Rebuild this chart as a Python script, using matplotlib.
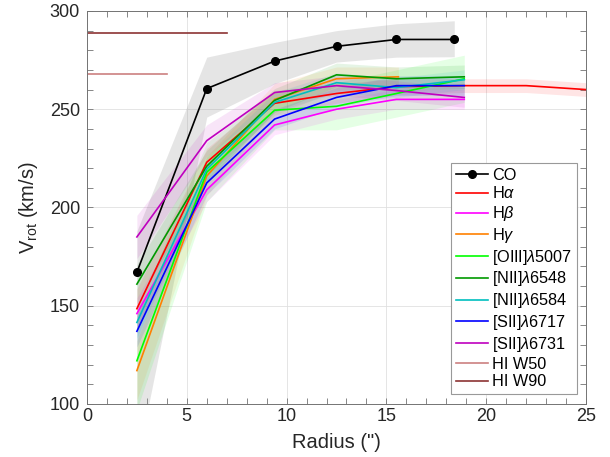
import matplotlib
matplotlib.use('Agg')
import matplotlib.pyplot as plt
import numpy as np

plt.rcParams['font.family'] = ['Liberation Sans', 'DejaVu Sans']
plt.rcParams['mathtext.fontset'] = 'custom'
plt.rcParams['mathtext.rm'] = 'Liberation Sans'
plt.rcParams['mathtext.it'] = 'Liberation Sans:italic'

# ------- data ------------------------------------------------------
r_co = [2.5, 6.0, 9.4, 12.5, 15.5, 18.4]
v_co = [167, 260.5, 274.5, 282, 285.5, 285.5]
co_lo = [70, 246, 263, 274, 276.5, 276.7]
co_hi = [188, 276.5, 284, 290, 293.5, 295]

r_gas = [2.5, 6.0, 9.4, 12.5, 15.5, 18.9]
r_ha = [2.5, 6.0, 9.4, 12.5, 15.5, 18.9, 22.0, 25.0]
r_hg = [2.5, 6.0, 9.4, 12.5, 15.6]

v_ha = [148.5, 223, 253, 258, 261.5, 262, 262, 260]
e_ha = [10, 7, 6, 5, 4, 3.5, 3.5, 3.5]
v_hb = [146, 209, 242, 250, 255, 255]
e_hb = [8, 6, 5, 5, 5, 5]
v_hg = [117, 216, 255, 265.5, 266.5]
e_hg = [15, 10, 8, 6, 5]
v_oiii = [122, 218, 249.5, 251.5, 258, 265.5]
e_oiii = [25, 15, 10, 12, 12, 12]
v_nii48 = [161, 221, 254.5, 267.5, 265.5, 266.5]
e_nii48 = [10, 8, 6, 6, 6, 6]
v_nii84 = [141.5, 219.5, 253.5, 263.5, 261, 265]
e_nii84 = [8, 6, 5, 5, 5, 5]
v_sii17 = [137, 212.5, 245, 256, 262, 262]
e_sii17 = [8, 6, 5, 5, 5, 5]
v_sii31 = [185, 234, 258.5, 262, 259.5, 256]
e_sii31 = [11, 8, 5, 5, 5, 5]

hi_w50 = 267.7
hi_w50_x = [0, 4]
hi_w90 = 289.0
hi_w90_x = [0, 7]

# ------- plot ------------------------------------------------------
fig = plt.figure(figsize=(6.1, 4.57), dpi=100)
ax = fig.add_axes([0.1426, 0.116, 0.8181, 0.860])

ax.fill_between(r_co, co_lo, co_hi, color='0.6', alpha=0.25, lw=0)
ax.plot(r_co, v_co, 'k-o', lw=1.2, ms=5.5, label='CO')

gas = [
    (r_ha, v_ha, e_ha, (1, 0, 0), r'H$\alpha$'),
    (r_gas, v_hb, e_hb, (1, 0, 1), r'H$\beta$'),
    (r_hg, v_hg, e_hg, (1, 0.5, 0), r'H$\gamma$'),
    (r_gas, v_oiii, e_oiii, (0, 1, 0), r'[OIII]$\lambda$5007'),
    (r_gas, v_nii48, e_nii48, (0, 0.6, 0), r'[NII]$\lambda$6548'),
    (r_gas, v_nii84, e_nii84, (0, 0.75, 0.75), r'[NII]$\lambda$6584'),
    (r_gas, v_sii17, e_sii17, (0, 0, 1), r'[SII]$\lambda$6717'),
    (r_gas, v_sii31, e_sii31, (0.75, 0, 0.75), r'[SII]$\lambda$6731'),
]
for r, v, e, c, lab in gas:
    v = np.array(v)
    e = np.array(e)
    ax.fill_between(r, v - e, v + e, color=c, alpha=0.1, lw=0)
for r, v, e, c, lab in gas:
    ax.plot(r, v, color=c, lw=1.2, label=lab)

ax.plot(hi_w50_x, [hi_w50] * 2, color=(0.8, 0.5, 0.5), lw=1.2, label='HI W50')
ax.plot(hi_w90_x, [hi_w90] * 2, color=(0.55, 0.2, 0.2), lw=1.2, label='HI W90')

ax.set_xlim(0, 25)
ax.set_ylim(100, 300)
ax.set_xticks(np.arange(0, 26, 5))
ax.set_yticks(np.arange(100, 301, 50))
ax.set_xticks(np.arange(0, 26, 1), minor=True)
ax.set_yticks(np.arange(100, 301, 10), minor=True)
ax.tick_params(which='both', direction='in', top=True, right=True,
               color='0.45', length=4, width=0.6, labelsize=13,
               labelcolor='0.15')
ax.tick_params(axis='x', pad=3)
ax.tick_params(axis='y', pad=5)
for s in ax.spines.values():
    s.set_color('0.45')
    s.set_linewidth(0.7)
ax.grid(True, which='major', color='0.88', lw=0.6)
ax.set_axisbelow(True)

ax.set_xlabel('Radius (")', fontsize=14.5, color='0.15', labelpad=6)
ax.set_ylabel(r'V$_{\rm rot}$ (km/s)', fontsize=14.5, color='0.15', labelpad=7)

leg = ax.legend(loc='lower right', bbox_to_anchor=(0.982, 0.025),
                borderaxespad=0, fontsize=11.7, fancybox=False,
                edgecolor='0.6', framealpha=1, handlelength=2.0,
                labelspacing=0.17, borderpad=0.3, handletextpad=0.25,
                numpoints=1)
leg.get_frame().set_linewidth(0.8)

fig.savefig('out.png', dpi=100)
